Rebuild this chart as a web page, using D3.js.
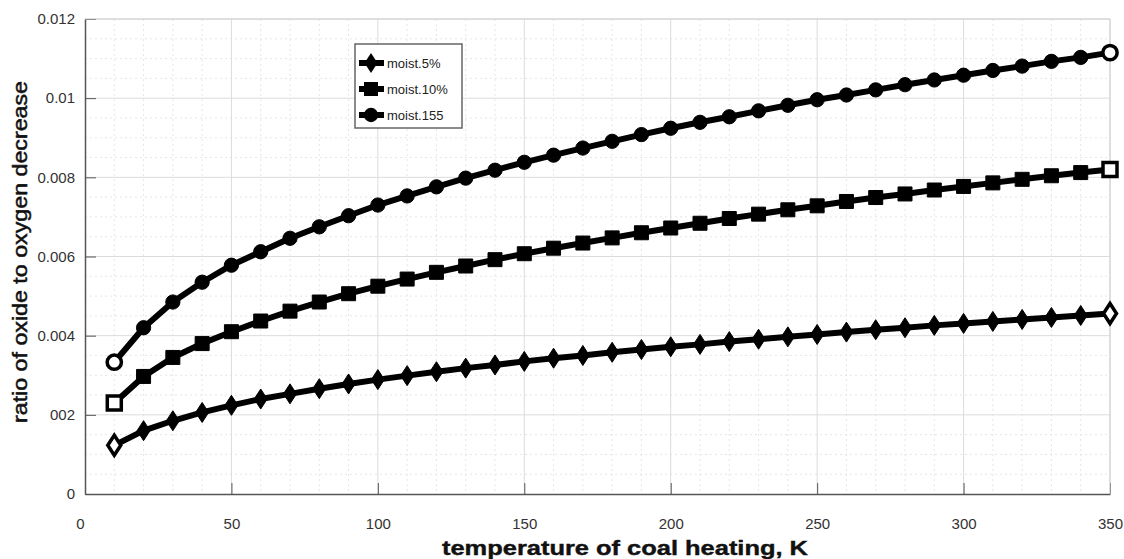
<!DOCTYPE html>
<html>
<head>
<meta charset="utf-8">
<script src="https://cdn.jsdelivr.net/npm/d3@7"></script>
<style>
  body { margin: 0; background: #fff; }
  svg { display: block; font-family: "Liberation Sans", Arial, sans-serif; }
</style>
</head>
<body>
<div class="chart-container"></div>
<script>
(function() {
  ////////////////////////////////////////////////////////////
  //// Data //////////////////////////////////////////////////
  ////////////////////////////////////////////////////////////
  const temps = [10, 20, 30, 40, 50, 60, 70, 80, 90, 100, 110, 120, 130, 140, 150, 160, 170, 180,
    190, 200, 210, 220, 230, 240, 250, 260, 270, 280, 290, 300, 310, 320, 330, 340, 350];

  const moist5 = [0.00123, 0.0016, 0.00185, 0.00206, 0.00224, 0.0024, 0.00253, 0.00266, 0.00278,
    0.00289, 0.00299, 0.00309, 0.00318, 0.00326, 0.00335, 0.00343, 0.0035, 0.00358, 0.00365,
    0.00372, 0.00378, 0.00385, 0.00391, 0.00397, 0.00403, 0.00409, 0.00415, 0.0042, 0.00426,
    0.00431, 0.00436, 0.00441, 0.00446, 0.00451, 0.00456];

  const moist10 = [0.0023, 0.00297, 0.00345, 0.0038, 0.0041, 0.00437, 0.00462, 0.00485, 0.00506,
    0.00525, 0.00543, 0.0056, 0.00576, 0.00592, 0.00607, 0.00621, 0.00634, 0.00647, 0.0066,
    0.00672, 0.00684, 0.00696, 0.00707, 0.00718, 0.00728, 0.00739, 0.00749, 0.00758, 0.00768,
    0.00777, 0.00786, 0.00795, 0.00804, 0.00812, 0.0082];

  const moist15 = [0.00333, 0.0042, 0.00485, 0.00535, 0.00578, 0.00612, 0.00646, 0.00675, 0.00703,
    0.0073, 0.00753, 0.00776, 0.00798, 0.00818, 0.00838, 0.00856, 0.00874, 0.00891, 0.00908,
    0.00924, 0.00939, 0.00953, 0.00968, 0.00982, 0.00996, 0.01008, 0.01021, 0.01034, 0.01046,
    0.01058, 0.0107, 0.01081, 0.01093, 0.01103, 0.01115];

  const seriesNames = ["moist.5%", "moist.10%", "moist.155"];
  const seriesShapes = ["diamond", "square", "circle"];

  const xTicks = [0, 50, 100, 150, 200, 250, 300, 350];
  const yTicks = [0, 0.002, 0.004, 0.006, 0.008, 0.01, 0.012];
  const yTickLabels = ["0", "002", "0.004", "0.006", "0.008", "0.01", "0.012"];

  const series = [moist5, moist10, moist15].map((vals, i) => ({
    name: seriesNames[i],
    shape: seriesShapes[i],
    values: vals.map((v, j) => [temps[j], v])
  }));

  ////////////////////////////////////////////////////////////
  //// Chart /////////////////////////////////////////////////
  ////////////////////////////////////////////////////////////
  const chartWidth = 1124;
  const chartHeight = 559;
  const margin = { top: 19, right: 14, bottom: 65, left: 85 };
  const width = 1110 - margin.left;
  const height = 494 - margin.top;

  const xScale = d3.scaleLinear().domain([0, 350]).range([0, width]);
  const yScale = d3.scaleLinear().domain([0, 0.012]).range([height, 0]);

  const svg = d3
    .select(".chart-container")
    .append("svg")
    .attr("width", chartWidth)
    .attr("height", chartHeight)
    .attr("viewBox", [0, 0, chartWidth, chartHeight]);

  const g = svg
    .append("g")
    .attr("transform", `translate(${margin.left},${margin.top})`);

  // minor grid
  const gGrid = g.append("g").attr("class", "grid");
  gGrid
    .selectAll(".minor-x")
    .data(d3.range(10, 350, 10).filter(d => d % 50 !== 0))
    .join("line")
    .attr("x1", d => xScale(d))
    .attr("x2", d => xScale(d))
    .attr("y1", 0)
    .attr("y2", height)
    .attr("stroke", "#e6e6e6")
    .attr("stroke-dasharray", "2,3");
  gGrid
    .selectAll(".minor-y")
    .data(d3.range(0.0005, 0.012, 0.0005).filter((d, i) => (i + 1) % 4 !== 0))
    .join("line")
    .attr("x1", 0)
    .attr("x2", width)
    .attr("y1", d => yScale(d))
    .attr("y2", d => yScale(d))
    .attr("stroke", "#e6e6e6")
    .attr("stroke-dasharray", "2,3");

  // major grid
  gGrid
    .selectAll(".major-x")
    .data(xTicks.slice(1))
    .join("line")
    .attr("x1", d => xScale(d))
    .attr("x2", d => xScale(d))
    .attr("y1", 0)
    .attr("y2", height)
    .attr("stroke", "#dcdcdc");
  gGrid
    .selectAll(".major-y")
    .data(yTicks.slice(1))
    .join("line")
    .attr("x1", 0)
    .attr("x2", width)
    .attr("y1", d => yScale(d))
    .attr("y2", d => yScale(d))
    .attr("stroke", "#dcdcdc");

  // axes
  const xAxis = g
    .append("g")
    .attr("transform", `translate(0,${height})`)
    .call(
      d3.axisBottom(xScale)
        .tickValues(xTicks)
        .tickSize(-11)
        .tickPadding(24)
        .tickSizeOuter(0)
    );
  xAxis.select(".domain").attr("stroke", "#555").attr("stroke-width", 1.5);
  xAxis.selectAll(".tick line").attr("stroke", "#555");
  xAxis
    .selectAll(".tick text")
    .attr("fill", "#333")
    .attr("font-size", 15)
    .attr("dx", d => (d === 0 ? -5 : 0));

  const yAxis = g
    .append("g")
    .call(
      d3.axisLeft(yScale)
        .tickValues(yTicks)
        .tickSize(-11)
        .tickPadding(10)
        .tickSizeOuter(0)
        .tickFormat((d, i) => yTickLabels[i])
    );
  yAxis.select(".domain").attr("stroke", "#555").attr("stroke-width", 1.5);
  yAxis.selectAll(".tick line").attr("stroke", "#555");
  yAxis
    .selectAll(".tick text")
    .attr("fill", "#333")
    .attr("font-size", 15);

  // top and right border
  g.append("line")
    .attr("x1", 0).attr("x2", width).attr("y1", 0).attr("y2", 0)
    .attr("stroke", "#d0d0d0");
  g.append("line")
    .attr("x1", width).attr("x2", width).attr("y1", 0).attr("y2", height)
    .attr("stroke", "#d0d0d0");

  // axis titles
  svg.append("text")
    .attr("x", 442)
    .attr("y", 555)
    .attr("font-size", 20)
    .attr("font-weight", "bold")
    .attr("textLength", 366)
    .attr("lengthAdjust", "spacingAndGlyphs")
    .attr("fill", "#111")
    .attr("stroke", "#111")
    .attr("stroke-width", 0.4)
    .text("temperature of coal heating, K");

  svg.append("text")
    .attr("transform", "translate(27,423) rotate(-90)")
    .attr("font-size", 20)
    .attr("textLength", 342)
    .attr("lengthAdjust", "spacingAndGlyphs")
    .attr("fill", "#111")
    .attr("stroke", "#111")
    .attr("stroke-width", 0.5)
    .text("ratio of oxide to oxygen decrease");

  ////////////////////////////////////////////////////////////
  //// Lines & markers ///////////////////////////////////////
  ////////////////////////////////////////////////////////////
  const line = d3.line()
    .x(d => xScale(d[0]))
    .y(d => yScale(d[1]));

  const symbols = {
    diamond: "M0,-10L6.5,0L0,10L-6.5,0Z",
    square: "M-7,-7H7V7H-7Z",
    circle: d3.symbol(d3.symbolCircle, 160)()
  };

  const gSeries = g.selectAll(".series")
    .data(series)
    .join("g")
    .attr("class", "series");

  gSeries.append("path")
    .attr("d", d => line(d.values))
    .attr("fill", "none")
    .attr("stroke", "#000")
    .attr("stroke-width", 6)
    .attr("stroke-linejoin", "round");

  gSeries.each(function(s) {
    const n = s.values.length;
    d3.select(this)
      .selectAll(".marker")
      .data(s.values)
      .join("path")
      .attr("class", "marker")
      .attr("transform", d => `translate(${xScale(d[0])},${yScale(d[1])})`)
      .attr("d", symbols[s.shape])
      .attr("fill", (d, i) => (i === 0 || i === n - 1 ? "#fff" : "#000"))
      .attr("stroke", "#000")
      .attr("stroke-width", (d, i) => (i === 0 || i === n - 1 ? 3.5 : 1));
  });

  ////////////////////////////////////////////////////////////
  //// Legend ////////////////////////////////////////////////
  ////////////////////////////////////////////////////////////
  const gLegend = svg.append("g").attr("transform", "translate(355,44)");
  gLegend.append("rect")
    .attr("width", 107)
    .attr("height", 84)
    .attr("fill", "#fff")
    .attr("stroke", "#666")
    .attr("stroke-width", 1.5);

  const legendItems = gLegend.selectAll(".item")
    .data(series)
    .join("g")
    .attr("class", "item")
    .attr("transform", (d, i) => `translate(0,${19 + i * 26})`);
  legendItems.append("line")
    .attr("x1", 4).attr("x2", 29)
    .attr("stroke", "#000").attr("stroke-width", 6);
  legendItems.append("path")
    .attr("transform", "translate(16,0)")
    .attr("d", d => symbols[d.shape])
    .attr("fill", "#000");
  legendItems.append("text")
    .attr("x", 32)
    .attr("dy", "0.38em")
    .attr("font-size", 13)
    .attr("fill", "#222")
    .text(d => d.name);
})();
</script>
</body>
</html>
